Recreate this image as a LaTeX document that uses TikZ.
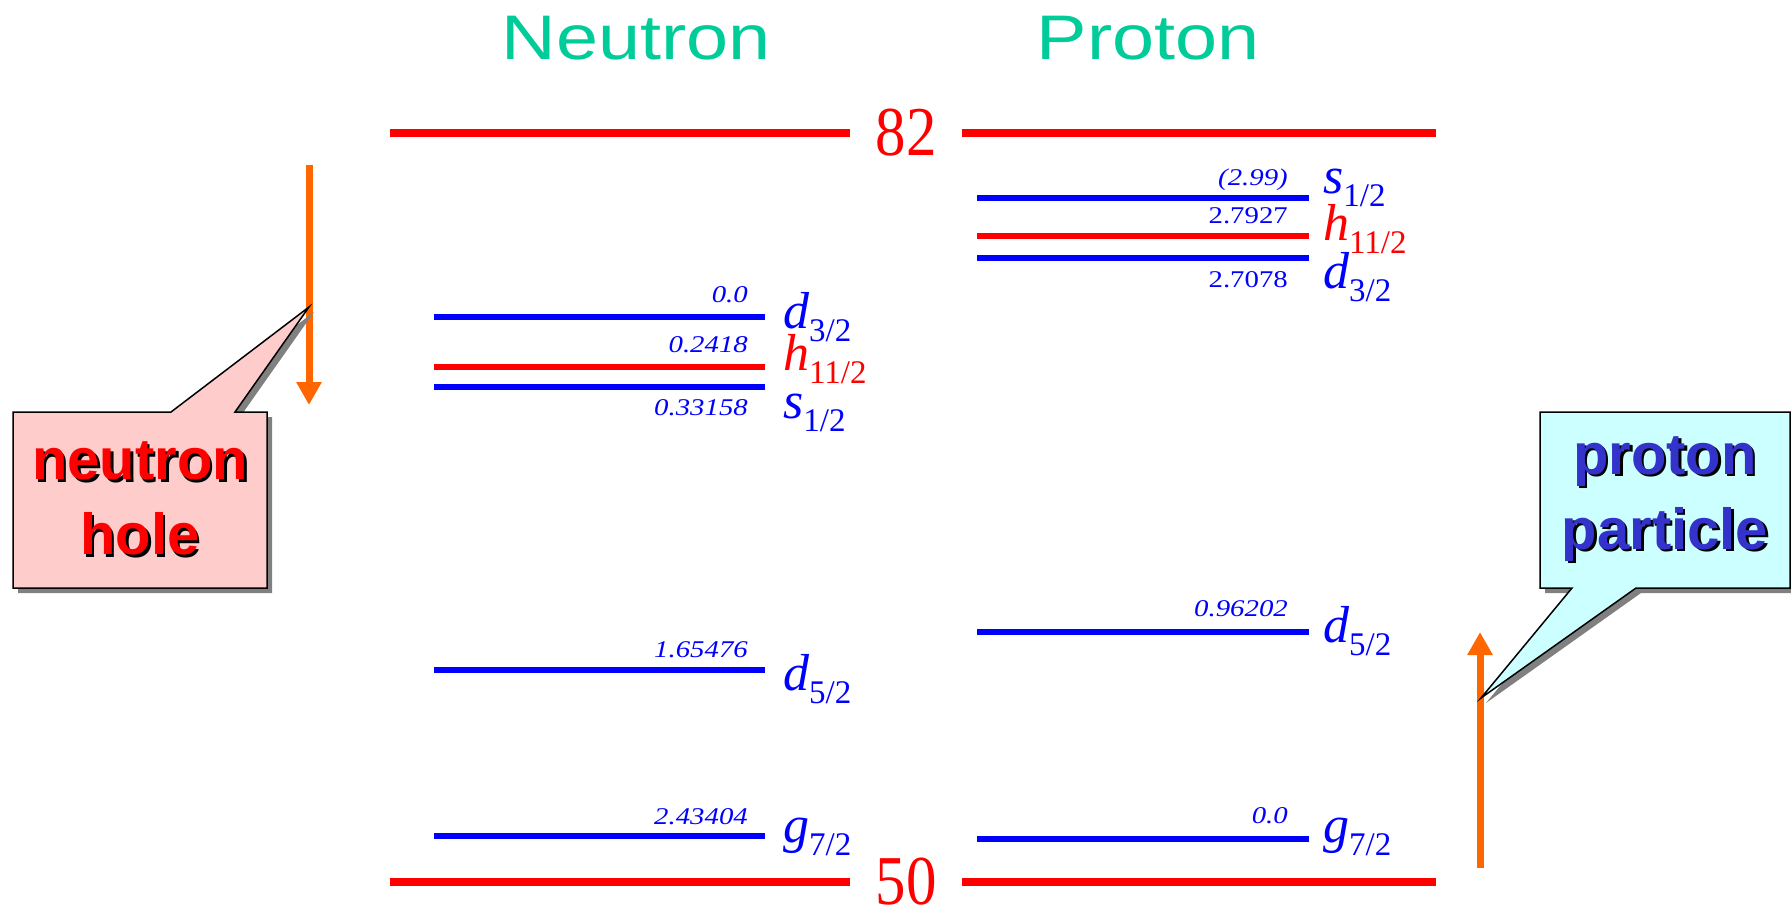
\documentclass[tikz,border=0pt]{standalone}
\usepackage{fontspec}
\setmainfont{Liberation Serif}
\newfontfamily\titlefont[FakeStretch=1.2]{Liberation Sans}
\newfontfamily\calloutfont{Liberation Sans}
\newfontfamily\numfont[FakeStretch=1.2]{Liberation Serif}
\newfontfamily\magicfont[FakeStretch=0.87]{Liberation Serif}
\usetikzlibrary{arrows.meta, shapes.callouts, shadows}
\definecolor{lvlblue}{HTML}{0000FF}
\definecolor{lvlred}{HTML}{FF0000}
\definecolor{arrorange}{HTML}{FF6600}
\definecolor{titlegreen}{HTML}{00CC99}
\definecolor{holepink}{HTML}{FFCCCC}
\definecolor{partcyan}{HTML}{CCFFFF}
\definecolor{partblue}{HTML}{3333CC}

% orbital label: italic letter with lowered subscript
\newcommand{\orb}[2]{{\fontsize{52}{52}\selectfont\itshape #1}{\fontsize{33}{33}\selectfont\raisebox{-13pt}{#2}}}
% text with a black drop shadow
\newcommand{\shtext}[2]{\leavevmode\rlap{\hspace{2.5pt}\raisebox{-2.5pt}{\color{black}#2}}{\color{#1}#2}}

\tikzset{
  shell/.style={lvlred, line width=8pt},
  level/.style={line width=6pt},
  energy/.style={lvlblue, anchor=base east, inner sep=0pt,
                 font=\numfont\fontsize{24}{24}\selectfont\itshape},
  orbit/.style={anchor=base west, inner sep=0pt},
  title/.style={titlegreen, anchor=base, inner sep=0pt,
                font=\titlefont\fontsize{63}{63}\selectfont},
  magic/.style={lvlred, inner ysep=0pt, inner xsep=25pt,
                font=\magicfont\fontsize{70}{70}\selectfont},
  move/.style={arrorange, line width=7pt, -{Triangle[length=23pt, width=24pt]}},
  bubble/.style={rectangle callout, draw=black, line width=1.5pt,
                 callout pointer width=64pt,
                 minimum width=254pt, minimum height=176pt, inner sep=0pt, align=center,
                 font=\calloutfont\bfseries\fontsize{58}{75}\selectfont,
                 drop shadow={shadow xshift=5pt, shadow yshift=-5pt, fill=black!50, opacity=1}}
}

\begin{document}
\begin{tikzpicture}[x=1pt, y=-1pt]
\useasboundingbox (0,0) rectangle (1791,913);

% Titles
\node[title] (ntitle) at (636,59) {Neutron};
\node[title] (ptitle) at (1148,59) {Proton};

% Shell closures
\node[magic] (m82) at (906,133) {82};
\draw[shell] (390,133) -- (m82.west);
\draw[shell] (m82.east) -- (1436,133);
\node[magic] (m50) at (906,882) {50};
\draw[shell] (390,882) -- (m50.west);
\draw[shell] (m50.east) -- (1436,882);

% Neutron levels
\draw[level, lvlblue] (434,317) -- (765,317);
\node[energy] (nd32e) at (748,302) {0.0};
\node[orbit, lvlblue] (nd32) at (783,328) {\orb{d}{3/2}};

\draw[level, lvlred] (434,367) -- (765,367);
\node[energy] (nh112e) at (748,352) {0.2418};
\node[orbit, lvlred] (nh112) at (783,370) {\orb{h}{11/2}};

\draw[level, lvlblue] (434,387) -- (765,387);
\node[energy] (ns12e) at (748,415) {0.33158};
\node[orbit, lvlblue] (ns12) at (783,418) {\orb{s}{1/2}};

\draw[level, lvlblue] (434,670) -- (765,670);
\node[energy] (nd52e) at (748,657) {1.65476};
\node[orbit, lvlblue] (nd52) at (783,690) {\orb{d}{5/2}};

\draw[level, lvlblue] (434,836) -- (765,836);
\node[energy] (ng72e) at (748,824) {2.43404};
\node[orbit, lvlblue] (ng72) at (783,842) {\orb{g}{7/2}};

% Proton levels
\draw[level, lvlblue] (977,198) -- (1309,198);
\node[energy] (ps12e) at (1288,185) {(2.99)};
\node[orbit, lvlblue] (ps12) at (1323,193) {\orb{s}{1/2}};

\draw[level, lvlred] (977,236) -- (1309,236);
\node[energy, font=\numfont\fontsize{24}{24}\selectfont] (ph112e) at (1288,223) {2.7927};
\node[orbit, lvlred] (ph112) at (1323,240) {\orb{h}{11/2}};

\draw[level, lvlblue] (977,258) -- (1309,258);
\node[energy, font=\numfont\fontsize{24}{24}\selectfont] (pd32e) at (1288,287) {2.7078};
\node[orbit, lvlblue] (pd32) at (1323,288) {\orb{d}{3/2}};

\draw[level, lvlblue] (977,632) -- (1309,632);
\node[energy] (pd52e) at (1288,616) {0.96202};
\node[orbit, lvlblue] (pd52) at (1323,642) {\orb{d}{5/2}};

\draw[level, lvlblue] (977,839) -- (1309,839);
\node[energy] (pg72e) at (1288,823) {0.0};
\node[orbit, lvlblue] (pg72) at (1323,842) {\orb{g}{7/2}};

% Arrows
\coordinate (nhtop) at (309,165);
\coordinate (nhtip) at (309,405);
\coordinate (nhpoint) at (309,307);
\draw[move] (nhtop) -- (nhtip);

\coordinate (pptop) at (1480,868);
\coordinate (pptip) at (1480,632);
\coordinate (pppoint) at (1481,698);
\draw[move] (pptop) -- (pptip);

% Callouts
\node[bubble, fill=holepink, callout absolute pointer={(nhpoint)}] (nhole) at (140,500)
  {\shtext{lvlred}{neutron}\\\shtext{lvlred}{hole}};
\node[bubble, fill=partcyan, minimum width=250pt, callout absolute pointer={(pppoint)}] (ppart) at (1665,500)
  {\shtext{partblue}{proton}\\\shtext{partblue}{particle}};

\end{tikzpicture}
\end{document}
